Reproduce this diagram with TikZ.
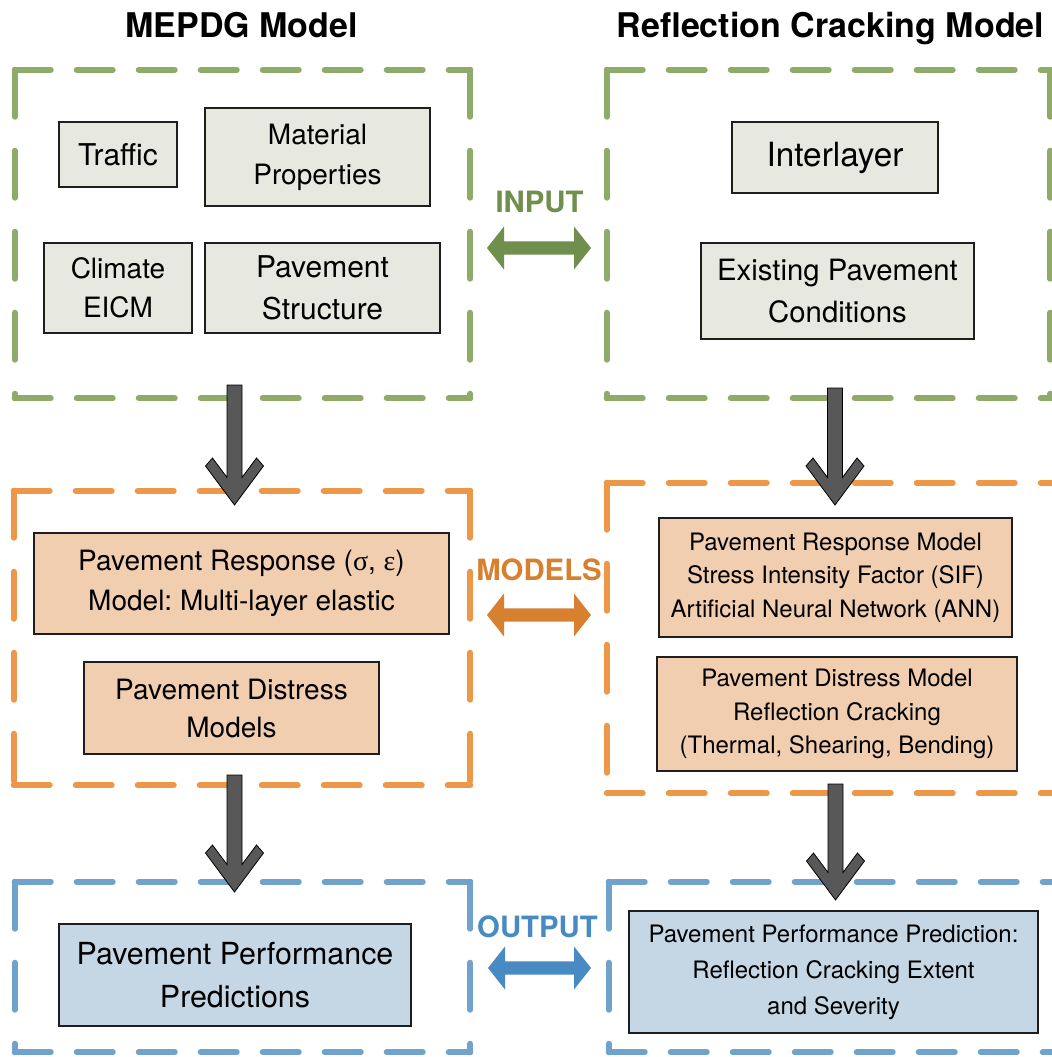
\documentclass[tikz,border=0pt]{standalone}
\usepackage{fontspec}
\setmainfont{TeX Gyre Heros}
\newfontfamily\grk{Liberation Serif}
\usetikzlibrary{calc}
\frenchspacing
\definecolor{gdash}{RGB}{143,171,105}
\definecolor{garr}{RGB}{112,142,76}
\definecolor{odash}{RGB}{236,152,72}
\definecolor{oarr}{RGB}{214,128,48}
\definecolor{bdash}{RGB}{112,162,204}
\definecolor{barr}{RGB}{72,138,194}
\definecolor{greyfill}{RGB}{231,232,224}
\definecolor{orfill}{RGB}{241,206,176}
\definecolor{blfill}{RGB}{197,214,228}
\definecolor{darkarr}{RGB}{88,88,88}
\definecolor{boxline}{RGB}{30,30,30}
\tikzset{
  grp/.style={inner sep=0pt, draw=none},
  hdash/.style={line width=4.5pt, line cap=round, dash pattern=on 27pt off 19.5pt},
  vdash/.style={line width=4.5pt, line cap=round, dash pattern=on 35.25pt off 25.5pt},
  stepbox/.style={draw=boxline, line width=1.6pt, inner sep=0pt, align=center},
  greybox/.style={stepbox, fill=greyfill},
  orbox/.style={stepbox, fill=orfill},
  blbox/.style={stepbox, fill=blfill},
  title/.style={font=\fontsize{25.5}{30}\selectfont\bfseries, anchor=base},
  lab/.style={font=\fontsize{22}{26}\selectfont\bfseries},
  darr/.style={fill=darkarr, draw=black, line width=0.6pt, line join=miter},
}
% #1 style, #2 name, #3 x1, #4 y1, #5 x2, #6 y2, #7 text
\newcommand\rectnode[7]{%
  \node[#1, minimum width={(#5-#3)*0.75pt}, minimum height={(#6-#4)*0.75pt}]
    (#2) at ({(#3+#5)/2},{(#4+#6)/2}) {#7};}
\newcommand\dashframe[2]{%
  \draw[hdash,#1] (#2.north west) -- (#2.north east);
  \draw[hdash,#1] (#2.south west) -- (#2.south east);
  \draw[vdash,#1] (#2.north west) -- (#2.south west);
  \draw[vdash,#1] (#2.north east) -- (#2.south east);}
\newcommand\blockdown[2]{%
  \filldraw[darr] ($(#1)+(-7.5,0)$) -- ($(#1)+(7.5,0)$) -- ($(#2)+(7.5,-27.5)$)
   -- ($(#2)+(22,-47)$) -- ($(#2)+(29,-39)$) -- (#2) -- ($(#2)+(-29,-39)$)
   -- ($(#2)+(-22,-47)$) -- ($(#2)+(-7.5,-27.5)$) -- cycle;}
\newcommand\blockboth[3]{%
  \fill[#1] (#2) -- ($(#2)+(17,-21.5)$) -- ($(#2)+(17,-6.7)$) -- ($(#3)+(-17,-6.7)$)
   -- ($(#3)+(-17,-21.5)$) -- (#3) -- ($(#3)+(-17,21.5)$) -- ($(#3)+(-17,6.7)$)
   -- ($(#2)+(17,6.7)$) -- ($(#2)+(17,21.5)$) -- cycle;}
\begin{document}
\begin{tikzpicture}[x=0.75pt,y=-0.75pt]
\path[use as bounding box, clip] (0,0) rectangle (1052,1057);
\fill[white] (0,0) rectangle (1052,1057);

% titles
\node[title] (t1) at (241.5,37) {MEPDG Model};
\node[title] (t2) at (830.5,37) {Reflection Cracking Model};

% group frames
\rectnode{grp}{gin1}{15}{70}{470}{398}{}
\rectnode{grp}{gin2}{607}{70}{1050}{398}{}
\rectnode{grp}{gmo1}{14}{491}{470}{785}{}
\rectnode{grp}{gmo2}{607}{483}{1062}{793}{}
\rectnode{grp}{gou1}{15}{882}{470}{1052}{}
\rectnode{grp}{gou2}{609}{882}{1062}{1052}{}
\dashframe{gdash}{gin1}
\dashframe{gdash}{gin2}
\dashframe{odash}{gmo1}
\dashframe{odash}{gmo2}
\dashframe{bdash}{gou1}
\dashframe{bdash}{gou2}

% input boxes
\rectnode{greybox, font=\fontsize{22.5}{30}\selectfont}{traffic}{59}{122}{177}{187}{Traffic}
\rectnode{greybox, font=\fontsize{21}{30}\selectfont}{mat}{205}{108}{430}{206}{Material\\Properties}
\rectnode{greybox, font=\fontsize{21}{29}\selectfont}{clim}{44}{243}{192}{333}{Climate\\EICM}
\rectnode{greybox, font=\fontsize{22.5}{31.5}\selectfont}{pstruct}{205}{243}{440}{333}{Pavement\\Structure}
\rectnode{greybox, font=\fontsize{25}{30}\selectfont}{inter}{732}{122}{938}{193}{Interlayer}
\rectnode{greybox, font=\fontsize{22}{31.5}\selectfont}{exist}{701}{243}{974}{339}{Existing Pavement\\Conditions}

% model boxes
\rectnode{orbox, font=\fontsize{21}{30}\selectfont}{presp}{34}{533}{449}{634}{Pavement Response ({\grk σ}, {\grk ε})\\Model: Multi-layer elastic}
\rectnode{orbox, font=\fontsize{21}{28.5}\selectfont}{pdist}{84}{662}{379}{754}{Pavement Distress\\Models}
\rectnode{orbox, font=\fontsize{18}{25}\selectfont}{prm}{659}{518}{1012}{637}{Pavement Response Model\\Stress Intensity Factor (SIF)\\Artificial Neural Network (ANN)}
\rectnode{orbox, font=\fontsize{18}{25}\selectfont}{pdm}{657}{657}{1017}{771}{Pavement Distress Model\\Reflection Cracking\\(Thermal, Shearing, Bending)}

% output boxes
\rectnode{blbox, font=\fontsize{22.8}{32}\selectfont}{ppp}{59}{924}{411}{1026}{Pavement Performance\\Predictions}
\rectnode{blbox, font=\fontsize{18}{27}\selectfont}{pout}{629}{911}{1038}{1033}{Pavement Performance Prediction:\\Reflection Cracking Extent\\and Severity}

% middle labels and double arrows
\node[lab, text=garr] (inlab) at (539.5,202) {INPUT};
\node[lab, text=oarr] (molab) at (539,570) {MODELS};
\node[lab, text=barr] (oulab) at (537.5,927) {OUTPUT};
\coordinate (inL) at (487,248); \coordinate (inR) at (591,248);
\coordinate (moL) at (487,615); \coordinate (moR) at (591,615);
\coordinate (ouL) at (488,968); \coordinate (ouR) at (591,968);
\blockboth{garr}{inL}{inR}
\blockboth{oarr}{moL}{moR}
\blockboth{barr}{ouL}{ouR}

% down arrows
\coordinate (d1s) at (234.5,385); \coordinate (d1e) at (234.5,505);
\coordinate (d2s) at (835,388);   \coordinate (d2e) at (835,505);
\coordinate (d3s) at (234.5,775); \coordinate (d3e) at (234.5,892);
\coordinate (d4s) at (835.5,784); \coordinate (d4e) at (835.5,900);
\blockdown{d1s}{d1e}
\blockdown{d2s}{d2e}
\blockdown{d3s}{d3e}
\blockdown{d4s}{d4e}
\end{tikzpicture}
\end{document}
